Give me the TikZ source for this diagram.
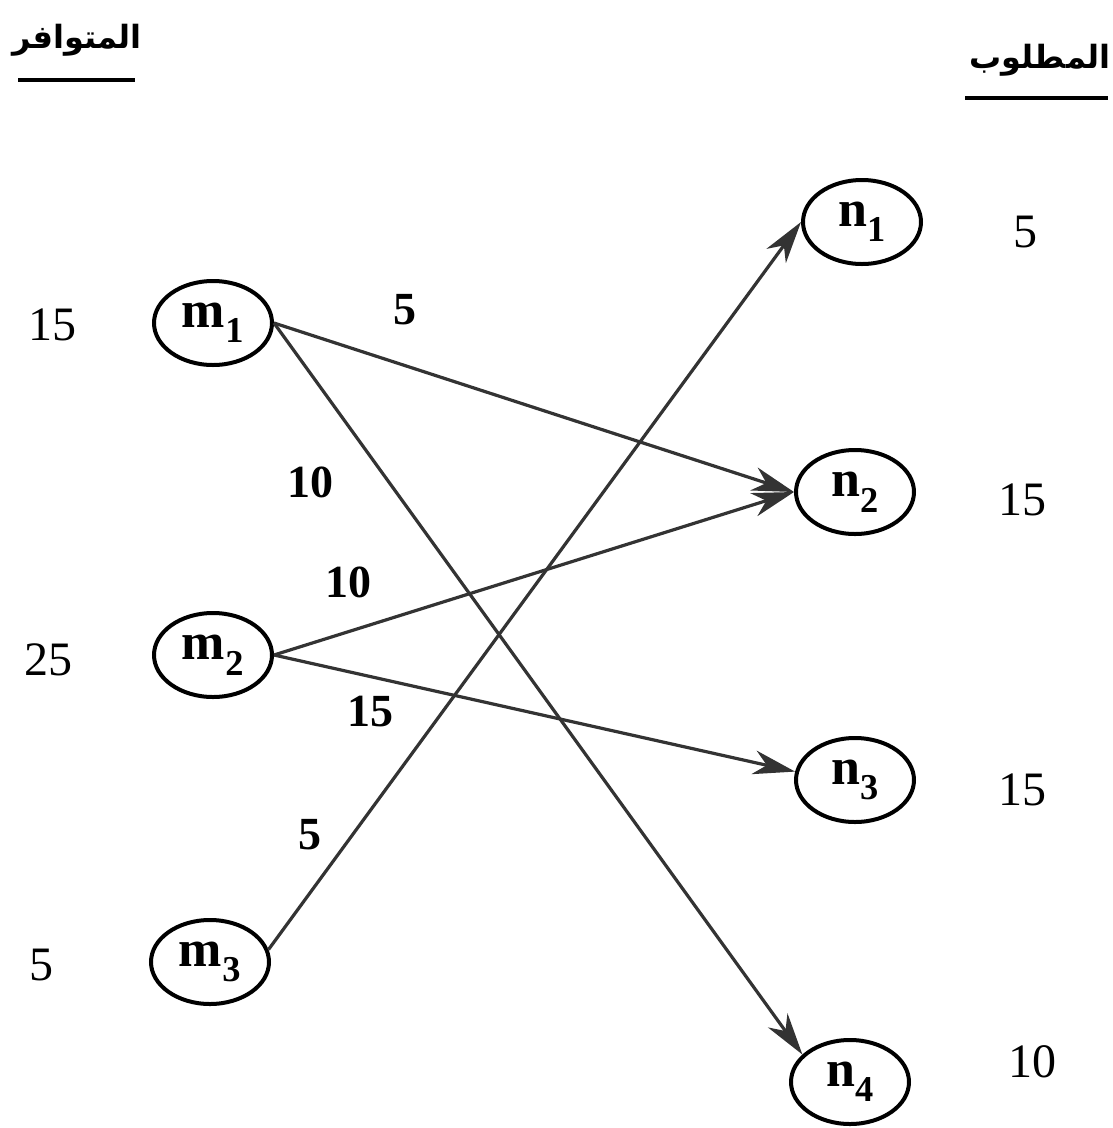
\documentclass[tikz,border=0pt]{standalone}
\usepackage{fontspec}
\setmainfont{Liberation Serif}
\newfontfamily\arabicfont[Script=Arabic]{DejaVu Sans}
\TeXXeTstate=1
\usetikzlibrary{arrows.meta,shapes.geometric}
\begin{document}
\begin{tikzpicture}[x=1pt,y=-1pt,
  vert/.style={ellipse,draw,line width=4pt,minimum width=118pt,minimum height=84pt,inner sep=0pt,font=\fontsize{52}{56}\selectfont\bfseries},
  flow/.style={line width=3.2pt,draw=black!80,-{Stealth[length=42pt,width=24pt,inset=13pt]}},
  elab/.style={font=\fontsize{46}{50}\selectfont\bfseries},
  qty/.style={font=\fontsize{48}{52}\selectfont},
  hdr/.style={font=\fontsize{32}{36}\selectfont\arabicfont\bfseries,inner sep=2pt}
]
\useasboundingbox (0,0) rectangle (1112,1128);
% nodes
\node[vert] (m1) at (213,323) {m\textsubscript{1}};
\node[vert] (m2) at (213,655) {m\textsubscript{2}};
\node[vert] (m3) at (210,962) {m\textsubscript{3}};
\node[vert] (n1) at (862,222) {n\textsubscript{1}};
\node[vert] (n2) at (855,492) {n\textsubscript{2}};
\node[vert] (n3) at (855,780) {n\textsubscript{3}};
\node[vert] (n4) at (850,1082) {n\textsubscript{4}};
% quantities
\node[qty] (q1) at (52,325) {15};
\node[qty] (q2) at (48,660) {25};
\node[qty] (q3) at (42,965) {5};
\node[qty] (r1) at (1025,232) {5};
\node[qty] (r2) at (1022,500) {15};
\node[qty] (r3) at (1022,790) {15};
\node[qty] (r4) at (1032,1062) {10};
% headers
\node[hdr] (hl) at (77,40) {\beginR المتوافر\endR};
\node[hdr] (hr) at (1040,60) {\beginR المطلوب\endR};
\coordinate (hl1) at (18,80); \coordinate (hl2) at (135,80);
\coordinate (hr1) at (965,98); \coordinate (hr2) at (1108,98);
\draw[line width=3.5pt] (hl1) -- (hl2);
\draw[line width=3.5pt] (hr1) -- (hr2);
% edges
\draw[flow] (m1.east) -- (n2.west);
\draw[flow] (m1.east) -- (n4.150);
\draw[flow] (m2.east) -- (n2.west);
\draw[flow] (m2.east) -- (n3.172);
\draw[flow] (m3.12) -- (n1.west);
% edge labels
\node[elab] (l1) at (405,310) {5};
\node[elab] (l2) at (310,482) {10};
\node[elab] (l3) at (348,582) {10};
\node[elab] (l4) at (370,712) {15};
\node[elab] (l5) at (310,835) {5};
\end{tikzpicture}
\end{document}
